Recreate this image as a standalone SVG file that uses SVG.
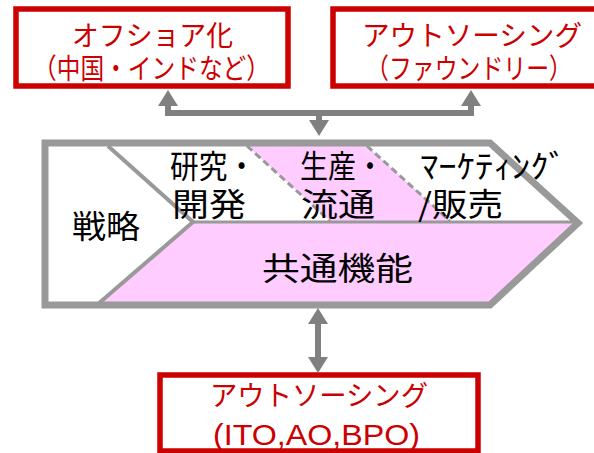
<svg xmlns="http://www.w3.org/2000/svg" width="594" height="453" viewBox="0 0 594 453">
<style>
.box{fill:#ffffff;stroke:#cc0000;stroke-width:5.5}
.rt{fill:#cc0000;font-family:"Noto Sans CJK JP","Liberation Sans",sans-serif;font-size:28px}
.lt{fill:#cc0000;font-family:"Liberation Sans","Noto Sans CJK JP",sans-serif;font-size:29px}
.bt{fill:#000000;font-family:"Noto Sans CJK JP",sans-serif;font-size:32px}
.pink{fill:#ffccff;stroke:none}
.gl{stroke:#999999;fill:none}
.conn{stroke:#808080;stroke-width:6;fill:none}
</style>
<defs>
<marker id="ah" markerUnits="userSpaceOnUse" markerWidth="16" markerHeight="20" refX="3" refY="10" orient="auto-start-reverse" viewBox="0 0 16 20">
<path d="M0,0 L16,10 L0,20 Z" fill="#808080"/>
</marker>
</defs>
<g id="offshore">
<rect class="box" x="16" y="9" width="272" height="77"/>
<text class="rt" x="72" y="46" textLength="161" lengthAdjust="spacingAndGlyphs">オフショア化</text>
<text class="rt" x="33" y="79" textLength="237" lengthAdjust="spacingAndGlyphs">（中国・インドなど）</text>
</g>
<g id="foundry">
<rect class="box" x="333" y="9" width="280" height="77"/>
<text class="rt" x="362" y="46" textLength="220" lengthAdjust="spacingAndGlyphs">アウトソーシング</text>
<text class="rt" x="366" y="79" textLength="206" lengthAdjust="spacingAndGlyphs">（ファウンドリー）</text>
</g>
<g id="outsourcing">
<rect class="box" x="160" y="375" width="318" height="76"/>
<text class="rt" x="210" y="406" textLength="218" lengthAdjust="spacingAndGlyphs">アウトソーシング</text>
<text class="lt" x="213" y="445" textLength="207" lengthAdjust="spacingAndGlyphs">(ITO,AO,BPO)</text>
</g>
<g id="value-chain">
<polygon points="45,143 490,143 578,223 490,305 45,305" fill="#ffffff"/>
<polygon class="pink" points="193,222 576,222 490,302 98,302"/>
<polygon class="pink" points="247,146 367,146 450,221 330,221"/>
<polyline class="gl" stroke-width="4" points="108,146 193,222 98,304"/>
<line class="gl" stroke-width="3" x1="193" y1="222" x2="576" y2="222"/>
<line class="gl" stroke-width="3" stroke-dasharray="7 4" x1="247" y1="146" x2="330" y2="221"/>
<line class="gl" stroke-width="3" stroke-dasharray="7 4" x1="367" y1="146" x2="450" y2="221"/>
<polygon class="gl" stroke-width="7" points="45,143 490,143 578,223 490,305 45,305"/>
<g id="strategy"><text class="bt" x="72" y="238" font-size="33" textLength="68" lengthAdjust="spacingAndGlyphs">戦略</text></g>
<g id="rd"><text class="bt" x="170" y="178" textLength="86" lengthAdjust="spacingAndGlyphs">研究・</text>
<text class="bt" x="172" y="216" textLength="74" lengthAdjust="spacingAndGlyphs">開発</text></g>
<g id="production"><text class="bt" x="300" y="178" textLength="84" lengthAdjust="spacingAndGlyphs">生産・</text>
<text class="bt" x="301" y="216" textLength="74" lengthAdjust="spacingAndGlyphs">流通</text></g>
<g id="marketing"><text class="bt" x="420" y="178" textLength="147" lengthAdjust="spacingAndGlyphs">ﾏｰｹﾃｨﾝｸﾞ</text>
<text class="bt" x="418" y="216" textLength="85" lengthAdjust="spacingAndGlyphs">/販売</text></g>
<g id="common"><text class="bt" x="262" y="280" font-size="34" textLength="151" lengthAdjust="spacingAndGlyphs">共通機能</text></g>
</g>
<g id="connectors">
<path class="conn" d="M168,103 V113 H471 V103" marker-start="url(#ah)" marker-end="url(#ah)"/>
<path class="conn" d="M319,113 V123" marker-end="url(#ah)"/>
<path class="conn" d="M318,321 V360" marker-start="url(#ah)" marker-end="url(#ah)"/>
</g>
</svg>
